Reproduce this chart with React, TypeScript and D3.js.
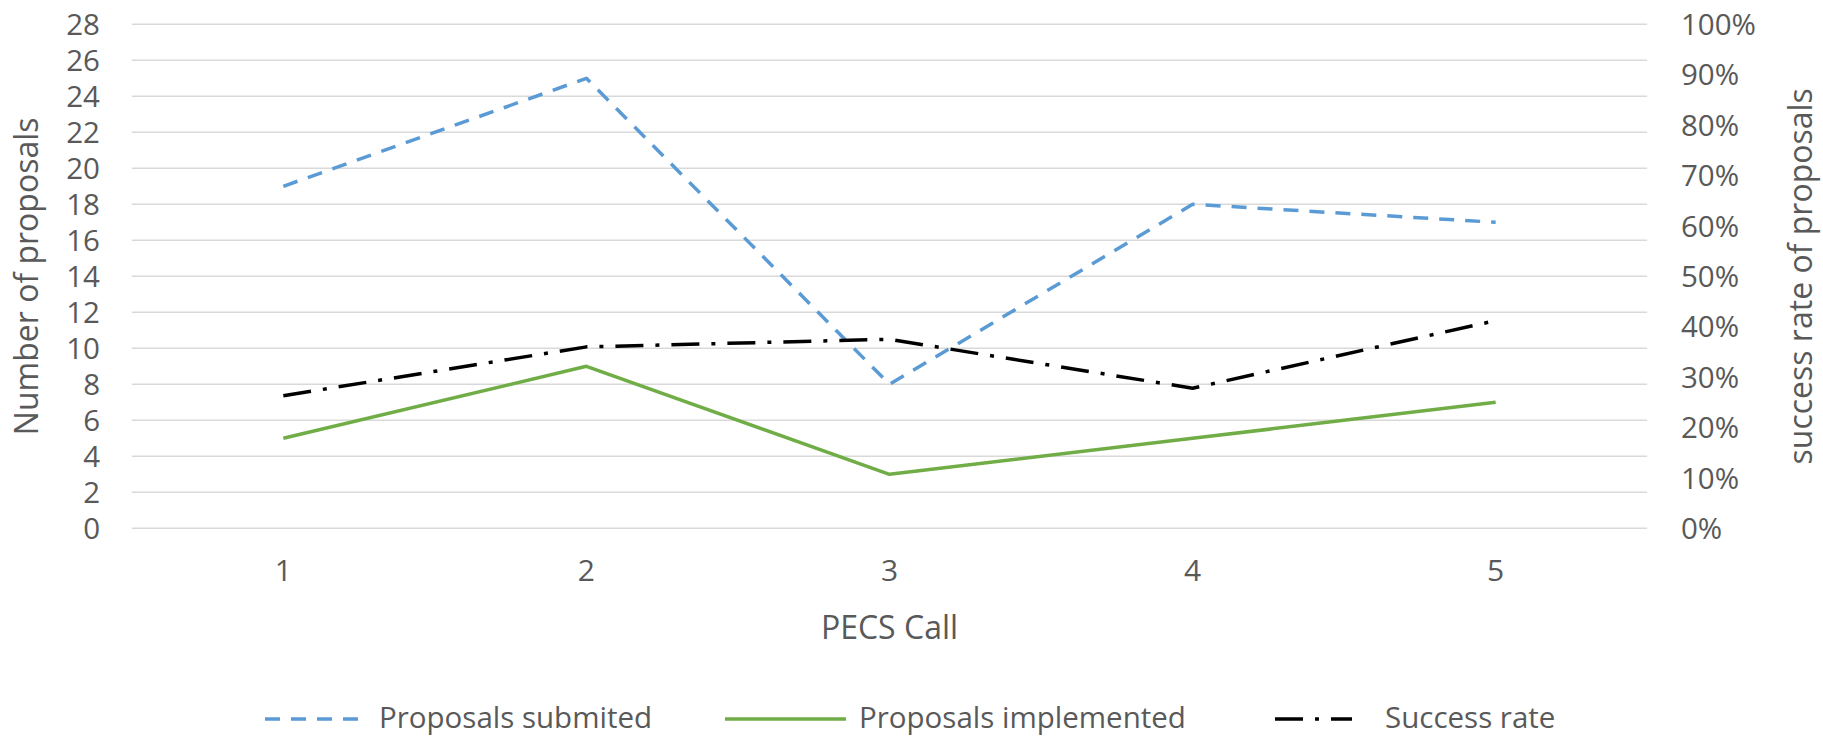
import React from "react";
import * as d3 from "d3";

const calls = ["1", "2", "3", "4", "5"];
const submitted = [19, 25, 8, 18, 17];
const implemented = [5, 9, 3, 5, 7];
const successRate = [0.263, 0.36, 0.375, 0.278, 0.412];
const leftTicks = [0, 2, 4, 6, 8, 10, 12, 14, 16, 18, 20, 22, 24, 26, 28];
const rightTicks = [0, 0.1, 0.2, 0.3, 0.4, 0.5, 0.6, 0.7, 0.8, 0.9, 1];
const seriesNames = ["Proposals submited", "Proposals implemented", "Success rate"];

const W = 1823;
const H = 737;
const left = 131.8;
const right = 1647.2;
const top = 24.3;
const bottom = 528.3;
const FONT = "'Open Sans', 'Noto Sans', sans-serif";
const TEXT = "#595959";

const x = d3.scalePoint<string>().domain(calls).range([left, right]).padding(0.5);
const yL = d3.scaleLinear().domain([0, 28]).range([bottom, top]);
const yR = d3.scaleLinear().domain([0, 1]).range([bottom, top]);

const styles = [
  { color: "#5b9bd5", dash: "15,11", width: 3.5 },
  { color: "#70ad47", dash: "none", width: 3.5 },
  { color: "#000000", dash: "28,12,4,12", width: 3.5 },
];

export default function App() {
  const lineL = d3
    .line<number>()
    .x((_, i) => x(calls[i]) as number)
    .y((d) => yL(d));
  const lineR = d3
    .line<number>()
    .x((_, i) => x(calls[i]) as number)
    .y((d) => yR(d));

  const paths = [lineL(submitted), lineL(implemented), lineR(successRate)];

  const legend = [
    { x1: 265, x2: 363, tx: 379 },
    { x1: 725, x2: 846, tx: 859 },
    { x1: 1275, x2: 1352, tx: 1385 },
  ];
  const legendY = 717;

  return (
    <svg
      width={W}
      height={H}
      style={{ position: "absolute", left: 0, top: 0, display: "block", background: "#fff" }}
      fontFamily={FONT}
    >
      <rect width={W} height={H} fill="#fff" />
      {leftTicks.map((t) => (
        <line key={"g" + t} x1={left} x2={right} y1={yL(t)} y2={yL(t)} stroke="#d9d9d9" strokeWidth={1.6} />
      ))}
      {leftTicks.map((t) => (
        <text key={"l" + t} x={100} y={yL(t)} dy="0.36em" textAnchor="end" fontSize={29.5} fill={TEXT}>
          {t}
        </text>
      ))}
      {rightTicks.map((t) => (
        <text key={"r" + t} x={1681} y={yR(t)} dy="0.36em" textAnchor="start" fontSize={29.5} fill={TEXT}>
          {d3.format(".0%")(t)}
        </text>
      ))}
      {calls.map((c) => (
        <text key={"x" + c} x={x(c)} y={581} textAnchor="middle" fontSize={30} fill={TEXT}>
          {c}
        </text>
      ))}
      <text x={(left + right) / 2} y={639} textAnchor="middle" fontSize={32} fill={TEXT}>
        PECS Call
      </text>
      <text
        transform={`translate(26,${(top + bottom) / 2}) rotate(-90)`}
        textAnchor="middle"
        dy="0.36em"
        fontSize={32}
        fill={TEXT}
      >
        Number of proposals
      </text>
      <text
        transform={`translate(1800,${(top + bottom) / 2}) rotate(-90)`}
        textAnchor="middle"
        dy="0.36em"
        fontSize={32}
        fill={TEXT}
      >
        success rate of proposals
      </text>
      {paths.map((p, i) => (
        <path
          key={"p" + i}
          d={p || ""}
          fill="none"
          stroke={styles[i].color}
          strokeWidth={styles[i].width}
          strokeDasharray={styles[i].dash}
          strokeLinejoin="round"
        />
      ))}
      {seriesNames.map((n, i) => (
        <g key={"lg" + i}>
          <line
            x1={legend[i].x1}
            x2={legend[i].x2}
            y1={legendY + 2}
            y2={legendY + 2}
            stroke={styles[i].color}
            strokeWidth={styles[i].width}
            strokeDasharray={styles[i].dash}
          />
          <text x={legend[i].tx} y={legendY} dy="0.36em" fontSize={29.5} fill={TEXT}>
            {n}
          </text>
        </g>
      ))}
    </svg>
  );
}
